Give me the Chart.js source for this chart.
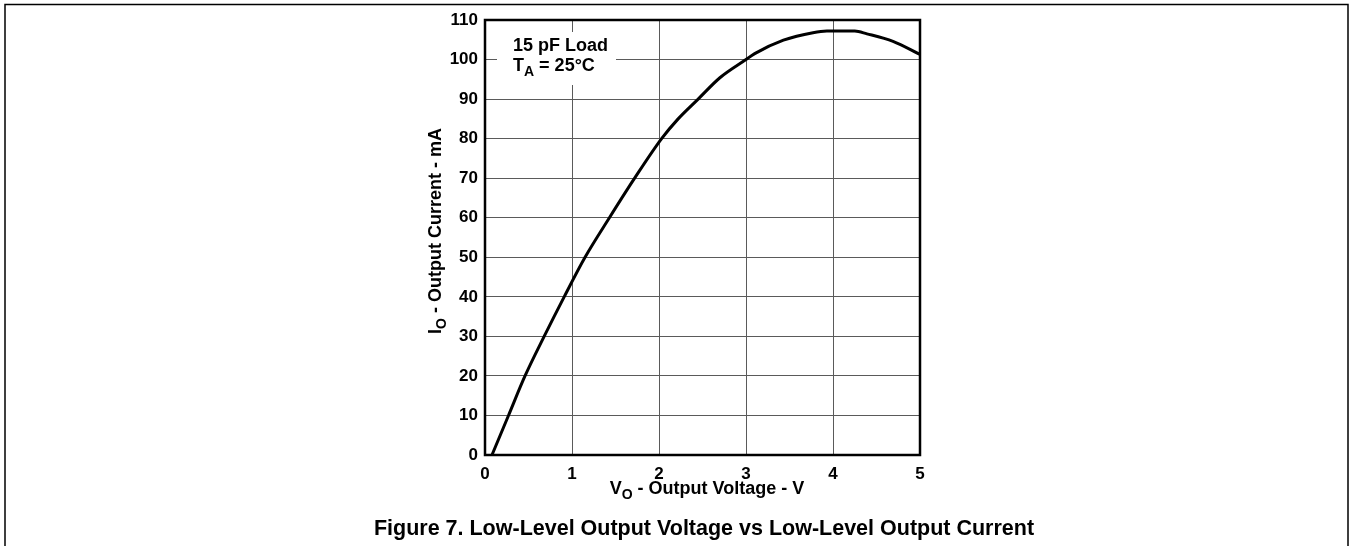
<!DOCTYPE html>
<html>
<head>
<meta charset="utf-8">
<title>Figure 7</title>
<script src="https://cdn.jsdelivr.net/npm/chart.js@4.4.1/dist/chart.umd.min.js"></script>
<style>
  html, body { margin: 0; padding: 0; background: #fff; }
  canvas { display: block; }
</style>
</head>
<body>
<canvas id="grafico" width="1350" height="546"></canvas>
<script>
// values
const voltage = [0.08, 0.27, 0.46, 0.68, 0.91, 1.15, 1.43, 1.72, 2.03, 2.22, 2.45, 2.7, 3.0, 3.1, 3.43, 3.77, 3.93, 4.25, 4.39, 4.69, 5.0];
const current = [0, 10, 20, 30, 40, 50, 60, 70, 80, 85, 90, 95.4, 100, 101.5, 104.9, 106.8, 107.2, 107.2, 106.5, 104.6, 101.3];
const xTicks = [0, 1, 2, 3, 4, 5];
const yTicks = [0, 10, 20, 30, 40, 50, 60, 70, 80, 90, 100, 110];

const FONT = '"Liberation Sans", Arial, sans-serif';

// draws text pieces, [text, isSubscript], centred on x
function drawParts(ctx, parts, x, y, size) {
    const sub = Math.round(size * 0.78);
    let total = 0;
    parts.forEach(p => {
        ctx.font = 'bold ' + (p[1] ? sub : size) + 'px ' + FONT;
        total += ctx.measureText(p[0]).width;
    });
    let cx = x - total / 2;
    ctx.textAlign = 'left';
    ctx.textBaseline = 'alphabetic';
    parts.forEach(p => {
        ctx.font = 'bold ' + (p[1] ? sub : size) + 'px ' + FONT;
        ctx.fillText(p[0], cx, p[1] ? y + size * 0.3 : y);
        cx += ctx.measureText(p[0]).width;
    });
}

const decor = {
    id: 'decor',
    beforeDatasetsDraw(chart) {
        const ctx = chart.ctx;
        const a = chart.chartArea;
        // white box behind the note, hides the grid
        ctx.save();
        ctx.fillStyle = '#fff';
        ctx.fillRect(a.left + 12, a.top + 12, 119, 53);
        ctx.fillStyle = '#000';
        ctx.textAlign = 'left';
        ctx.font = 'bold 18px ' + FONT;
        ctx.fillText('15 pF Load', a.left + 28, a.top + 31);
        ctx.fillText('T', a.left + 28, a.top + 51);
        let w = ctx.measureText('T').width;
        ctx.font = 'bold 14px ' + FONT;
        ctx.fillText('A', a.left + 28 + w, a.top + 56);
        w += ctx.measureText('A').width;
        ctx.font = 'bold 18px ' + FONT;
        ctx.fillText(' = 25°C', a.left + 28 + w, a.top + 51);
        ctx.restore();
    },
    afterDraw(chart) {
        const ctx = chart.ctx;
        const a = chart.chartArea;
        ctx.save();
        // plot frame
        ctx.strokeStyle = '#000';
        ctx.lineWidth = 2.5;
        ctx.strokeRect(a.left, a.top, a.right - a.left, a.bottom - a.top);
        // page frame
        ctx.lineWidth = 1.5;
        ctx.beginPath();
        ctx.moveTo(5, 546);
        ctx.lineTo(5, 4.5);
        ctx.lineTo(1348, 4.5);
        ctx.lineTo(1348, 546);
        ctx.stroke();
        ctx.fillStyle = '#000';
        // axis titles
        drawParts(ctx, [['V', false], ['O', true], [' - Output Voltage - V', false]], 707, 494, 18);
        ctx.save();
        ctx.translate(441, 231);
        ctx.rotate(-Math.PI / 2);
        drawParts(ctx, [['I', false], ['O', true], [' - Output Current - mA', false]], 0, 0, 18);
        ctx.restore();
        // caption
        ctx.font = 'bold 21.5px ' + FONT;
        ctx.textAlign = 'center';
        ctx.fillText('Figure 7. Low-Level Output Voltage vs Low-Level Output Current', 704, 535);
        ctx.restore();
    }
};

const ctx = document.getElementById('grafico').getContext('2d');
new Chart(ctx, {
    type: 'line',
    data: {
        datasets: [{
            data: voltage.map((v, i) => ({ x: v, y: current[i] })),
            borderColor: '#000',
            borderWidth: 3,
            pointRadius: 0,
            cubicInterpolationMode: 'monotone',
            fill: false
        }]
    },
    options: {
        responsive: false,
        animation: false,
        layout: { padding: { top: 20, right: 430, left: 0, bottom: 0 } },
        plugins: { legend: { display: false }, tooltip: { enabled: false } },
        scales: {
            x: {
                type: 'linear',
                min: xTicks[0],
                max: xTicks[xTicks.length - 1],
                afterBuildTicks: s => { s.ticks = xTicks.map(v => ({ value: v })); },
                afterFit: s => { s.height = 91; },
                grid: { color: '#5a5a5a', lineWidth: 1, drawTicks: false },
                border: { display: false },
                ticks: { color: '#000', padding: 9, font: { family: FONT, size: 17, weight: 'bold' } }
            },
            y: {
                type: 'linear',
                min: yTicks[0],
                max: yTicks[yTicks.length - 1],
                afterBuildTicks: s => { s.ticks = yTicks.map(v => ({ value: v })); },
                afterFit: s => { s.width = 485; },
                grid: { color: '#5a5a5a', lineWidth: 1, drawTicks: false },
                border: { display: false },
                ticks: { color: '#000', padding: 7, font: { family: FONT, size: 17, weight: 'bold' } }
            }
        }
    },
    plugins: [decor]
});
</script>
</body>
</html>
